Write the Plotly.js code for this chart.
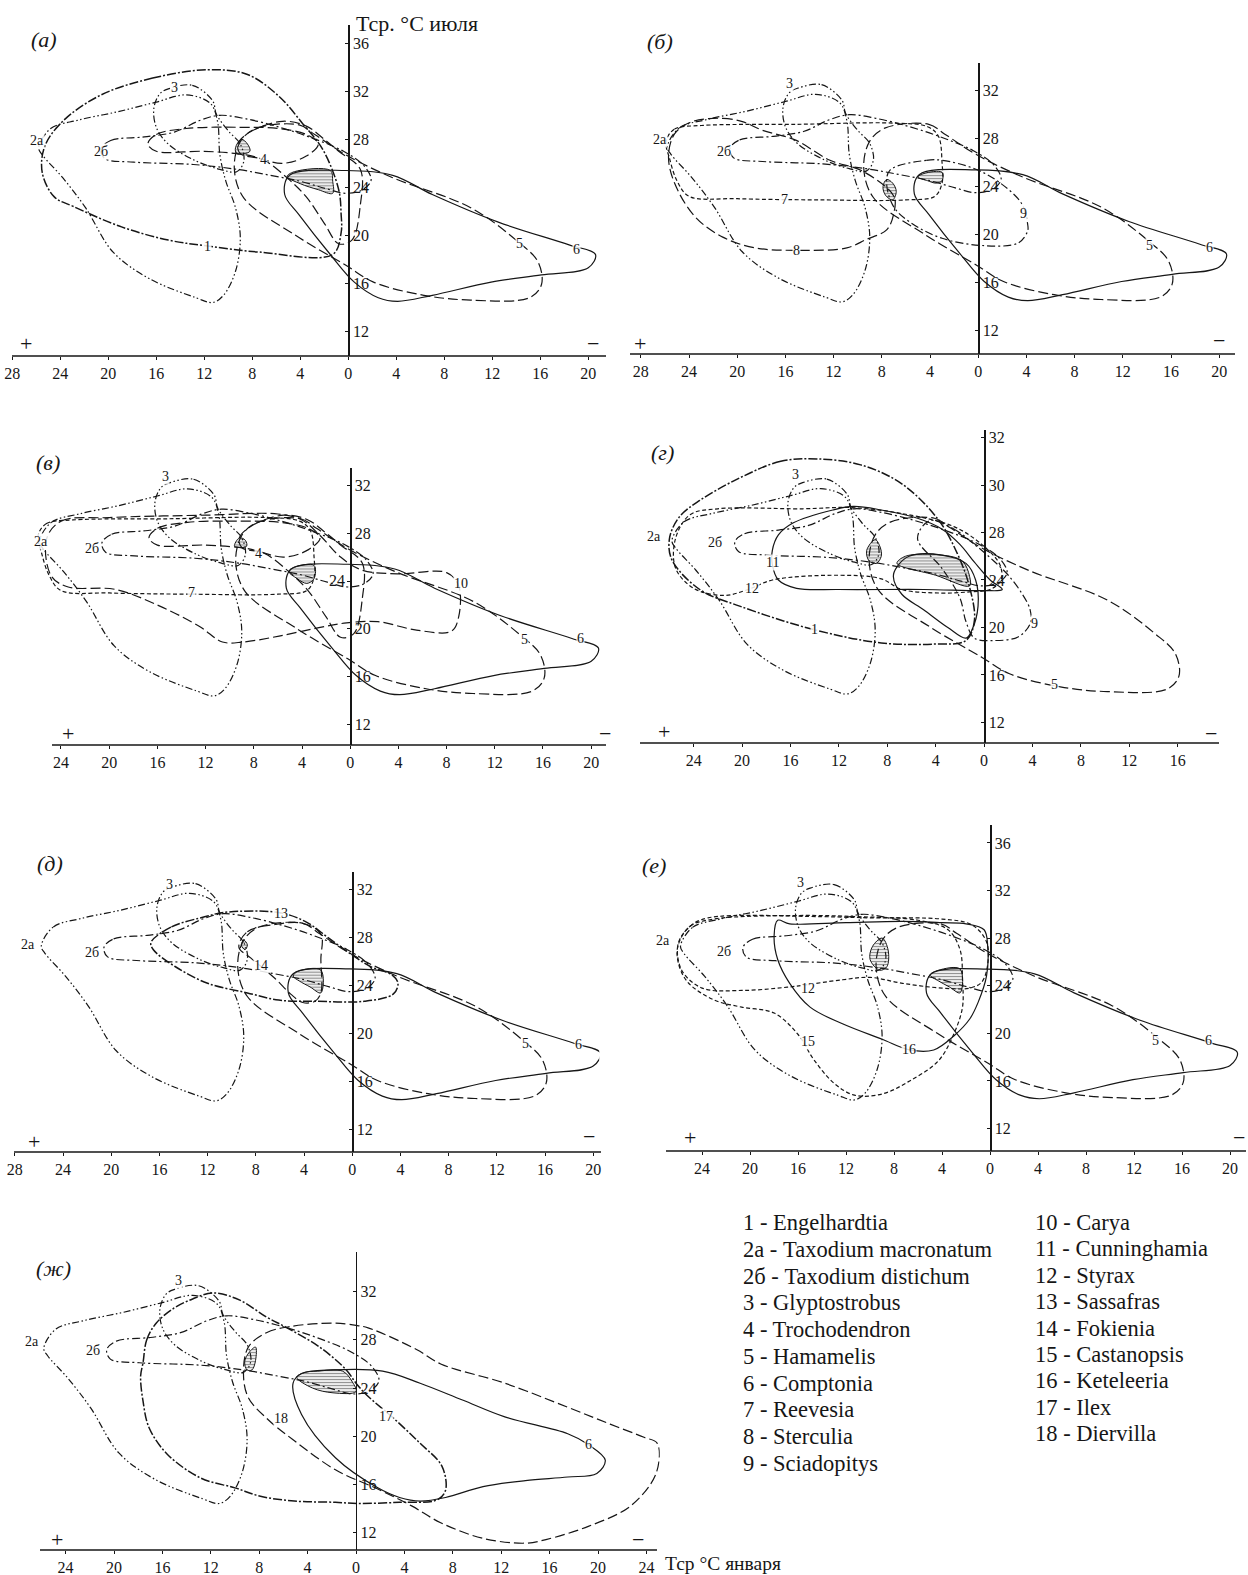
<!DOCTYPE html>
<html><head><meta charset="utf-8">
<script src="https://cdn.plot.ly/plotly-3.0.1.min.js"></script>
<style>html,body{margin:0;padding:0;background:#fff}#chart{width:1248px;height:1575px}</style>
</head><body><div id="chart"></div>
<script>
// ===== DATA: envelope outlines as [T января (°C, + left), T июля (°C)] =====
const engelhardtia_a = [[11.7,33.8],[16.3,33.1],[20.6,31.7],[23.8,29.5],[25.3,27.4],[25.5,25.2],[24.5,23.2],[22.9,22.4],[18.9,20.7],[15.0,19.6],[11.7,19.1],[7.4,18.6],[1.3,18.4],[0.6,20.2],[0.6,21.8],[0.8,23.8],[2.1,27.1],[3.8,29.3],[5.8,31.6],[8.4,33.4]];
const engelhardtia_g = [[13.8,34.2],[16.8,34.0],[20.2,32.6],[23.5,30.7],[25.2,29.3],[26.0,27.5],[25.8,25.7],[23.5,23.2],[20.2,21.8],[14.0,19.8],[8.5,18.7],[4.2,18.6],[1.5,18.9],[0.8,20.6],[1.2,23.4],[2.2,26.2],[3.8,29.1],[6.8,32.1],[10.2,33.7]];
const taxMacronatum = [[25.8,27.3],[24.8,28.9],[22.5,29.6],[19.2,30.3],[16.0,31.1],[13.5,31.7],[11.5,31.0],[10.9,29.5],[10.7,26.7],[10.2,24.5],[9.4,22.3],[9.0,19.8],[9.4,17.0],[10.4,15.0],[11.3,14.4],[12.7,14.8],[16.6,16.4],[19.6,18.6],[21.9,22.3],[23.8,24.8],[25.5,26.7]];
const taxDistichum = [[20.6,27.2],[19.8,27.9],[17.0,28.2],[14.5,28.6],[12.3,29.6],[10.7,30.0],[8.5,29.7],[5.7,29.0],[3.0,28.1],[0.4,27.0],[-1.3,25.8],[-1.9,24.6],[-1.2,23.8],[0.2,23.5],[1.9,23.9],[4.0,24.5],[6.5,25.0],[9.3,25.5],[12.9,25.9],[17.9,26.1],[20.3,26.4]];
const glyptostrobus = [[15.0,32.2],[13.0,32.5],[11.3,31.2],[11.0,30.1],[10.0,28.7],[9.0,27.6],[8.7,26.2],[9.3,25.3],[10.7,25.5],[12.7,26.2],[15.0,27.6],[16.0,29.0],[16.2,30.6],[15.7,31.8]];
const trochodendron = [[9.2,27.6],[8.2,28.6],[5.5,29.5],[3.5,29.1],[2.0,28.0],[0.8,27.0],[-1.0,25.5],[-1.0,22.5],[-0.3,19.6],[0.8,19.3],[2.0,21.0],[3.5,23.2],[5.0,24.7],[7.1,26.3],[9.0,26.8]];
const hamamelis = [[7.7,28.9],[4.1,29.2],[2.8,28.4],[0.2,26.7],[-3.7,24.8],[-10.2,22.3],[-14.1,19.5],[-15.8,17.8],[-16.1,15.9],[-15.1,14.8],[-10.2,14.6],[-6.3,15.0],[-2.1,16.1],[0.2,17.5],[4.4,20.0],[8.7,23.1],[9.5,25.6],[9.0,27.8]];
const comptonia = [[4.9,25.0],[0.2,25.4],[-3.7,25.0],[-7.0,23.4],[-12.5,21.1],[-18.4,19.2],[-20.6,18.4],[-20.0,17.3],[-16.1,16.7],[-11.9,16.1],[-7.0,15.0],[-4.1,14.5],[-2.5,14.8],[-0.5,16.1],[1.5,18.4],[4.1,21.7],[5.3,23.4]];
const comptonia_zh = [[5.2,24.4],[4.5,25.2],[1.9,25.5],[-2.2,25.4],[-5.3,24.4],[-8.8,23.0],[-12.3,21.6],[-17.5,20.2],[-19.2,19.3],[-20.6,18.0],[-19.9,16.9],[-17.5,16.6],[-14.0,16.3],[-10.5,15.8],[-7.4,14.9],[-5.3,14.6],[-3.6,14.9],[-1.8,15.7],[1.7,18.2],[4.5,21.8]];
const reevesia = [[25.9,27.8],[25.2,28.8],[23.0,29.1],[15.0,29.2],[7.0,29.3],[4.2,29.0],[3.3,28.2],[3.0,26.0],[3.0,24.3],[3.6,23.2],[6.0,22.9],[13.2,22.9],[20.0,23.0],[24.0,23.2],[25.0,24.5],[25.6,26.3]];
const sterculia = [[23.8,29.4],[21.2,29.7],[19.5,29.4],[17.9,28.7],[15.2,27.9],[12.3,26.2],[9.6,25.3],[7.0,23.2],[7.0,21.8],[7.6,20.4],[9.3,19.6],[10.9,18.9],[15.1,18.7],[18.5,18.9],[21.2,19.8],[23.5,21.5],[25.2,24.3],[25.7,26.5],[25.2,28.4]];
const sciadopitys_b = [[7.3,25.4],[4.3,26.2],[3.0,26.2],[0.3,25.5],[-1.7,24.4],[-3.6,22.6],[-4.1,20.9],[-4.1,20.3],[-3.3,19.3],[-0.3,19.1],[3.0,19.7],[5.6,21.0],[7.0,22.3],[7.6,24.3]];
const sciadopitys_g = [[4.5,29.0],[2.5,28.3],[0.8,27.0],[-0.8,25.6],[-2.0,24.4],[-3.1,22.9],[-3.8,21.5],[-3.8,20.3],[-2.8,19.2],[-0.8,18.9],[0.8,19.1],[1.5,20.5],[2.0,22.5],[3.5,25.0],[5.5,27.5]];
const carya = [[25.2,27.5],[24.0,29.0],[20.0,29.3],[12.0,29.5],[6.0,29.6],[4.0,29.1],[2.5,27.8],[0.8,26.0],[-1.0,24.9],[-4.0,24.6],[-8.0,24.7],[-9.0,23.6],[-9.0,21.0],[-8.4,19.8],[-5.5,19.9],[-2.3,20.6],[0.3,20.5],[2.6,20.1],[5.9,19.4],[8.9,18.9],[10.6,18.9],[12.5,20.2],[15.8,21.9],[19.5,23.3],[23.4,23.5],[24.8,24.4]];
const cunninghamia = [[17.5,26.5],[17.0,27.8],[15.8,28.8],[12.5,29.9],[10.8,30.2],[8.5,29.9],[5.5,29.2],[3.5,28.3],[2.0,27.0],[0.8,25.5],[-0.5,24.0],[-1.5,23.2],[0.0,23.1],[5.0,23.2],[12.0,23.2],[15.5,23.3],[17.0,24.0],[17.5,25.3]];
const styrax_g = [[25.5,27.5],[24.3,29.5],[22.0,30.0],[15.0,30.0],[11.0,30.1],[6.8,29.6],[2.5,28.5],[0.2,27.0],[-1.3,25.3],[-1.4,24.0],[-0.5,23.2],[1.2,23.0],[3.5,22.9],[6.8,23.2],[8.5,24.1],[12.0,24.4],[17.5,24.0],[19.5,23.2],[21.5,22.7],[24.0,23.3],[25.5,25.0]];
const styrax_e = [[26.0,27.5],[25.0,29.0],[23.5,29.7],[14.0,29.8],[10.0,29.7],[4.0,29.6],[1.5,29.1],[0.3,27.7],[0.2,25.8],[0.7,24.3],[1.7,23.8],[4.0,23.8],[7.3,24.2],[10.0,24.7],[12.3,24.5],[16.7,23.9],[20.7,23.6],[24.0,23.8],[25.7,25.3]];
const sassafras = [[16.7,27.6],[15.0,28.9],[12.0,29.8],[10.7,30.1],[6.1,30.1],[3.8,29.3],[2.0,28.0],[0.2,26.7],[-1.5,25.6],[-3.3,24.9],[-3.8,24.2],[-3.4,23.3],[-1.0,22.7],[3.0,22.7],[6.1,22.8],[8.7,23.4],[12.0,24.2],[14.7,25.6],[16.5,27.0]];
const fokienia = [[9.4,27.2],[8.7,28.5],[6.4,29.1],[4.1,29.2],[2.6,28.3],[2.6,26.2],[2.6,23.4],[3.1,22.7],[4.1,22.6],[5.1,23.3],[6.4,24.6],[8.4,26.3]];
const castanopsis = [[26.0,27.4],[25.0,29.0],[23.0,29.6],[16.0,29.9],[11.0,29.8],[6.0,29.5],[3.5,28.7],[2.5,27.0],[2.3,24.5],[2.3,22.2],[3.0,20.0],[4.3,17.7],[6.7,16.0],[9.0,14.9],[11.3,14.8],[13.0,15.8],[14.7,17.8],[16.0,19.9],[18.0,21.7],[20.7,22.2],[23.0,22.8],[25.2,24.3],[26.0,26.0]];
const keteleeria = [[17.7,29.5],[18.0,28.2],[17.7,26.2],[16.7,24.2],[15.0,22.2],[12.3,20.8],[9.0,19.5],[6.7,18.6],[4.7,18.6],[3.0,19.8],[1.7,21.2],[1.0,22.6],[0.3,24.8],[0.2,27.3],[0.5,28.7],[2.0,29.2],[4.0,29.3],[7.3,29.4],[12.0,29.3],[16.7,29.2]];
const ilex = [[17.6,26.1],[17.3,28.0],[16.5,29.4],[15.1,30.6],[13.5,31.4],[11.8,31.9],[9.6,31.3],[7.4,29.9],[5.7,29.0],[3.0,27.4],[0.8,25.5],[0.0,24.4],[-0.9,23.4],[-3.2,21.4],[-5.3,19.4],[-7.1,17.5],[-7.4,15.5],[-6.7,14.7],[-3.6,14.5],[-0.1,14.4],[1.7,14.5],[5.1,14.6],[7.9,15.0],[10.0,15.7],[12.8,16.5],[15.6,18.5],[17.1,20.7],[17.6,22.9],[17.8,25.0]];
const diervilla = [[8.9,27.4],[7.4,28.6],[5.5,29.1],[1.9,29.4],[0.0,29.2],[-1.0,29.0],[-5.0,27.2],[-7.0,26.0],[-12.3,24.4],[-17.5,22.4],[-21.0,21.0],[-23.8,19.9],[-24.9,19.4],[-24.8,16.9],[-22.7,14.2],[-19.2,12.5],[-15.7,11.4],[-14.0,11.1],[-10.5,11.5],[-7.0,12.8],[-4.6,14.2],[-1.8,15.6],[1.7,17.2],[5.2,19.7],[7.3,21.4],[8.9,23.2],[9.3,25.2]];
const unlabeledLong = [[16.7,27.6],[16.0,28.4],[13.5,28.9],[9.0,29.0],[5.8,28.9],[3.5,28.4],[2.5,27.6],[3.5,26.6],[5.5,26.0],[8.5,26.7],[12.0,27.0],[16.0,27.0]];
const unlabeledSolid = [[7.5,24.3],[7.2,25.1],[6.2,26.0],[3.5,26.1],[1.5,25.4],[0.7,24.0],[0.5,21.8],[1.0,19.8],[1.5,19.1],[3.0,20.0],[5.0,21.5],[6.8,22.8]];
// hatched overlap areas
const hatchA1 = [[8.9,28.0],[8.4,27.6],[8.2,27.0],[9.3,26.8],[9.4,27.3]];
const hatchA2 = [[5.1,24.9],[4.5,25.3],[1.5,25.4],[1.3,24.5],[1.3,23.5],[2.5,23.8],[4.0,24.3]];
const hatchB1 = [[7.6,24.6],[7.9,24.0],[7.7,23.3],[7.1,22.9],[6.8,23.6],[7.1,24.3]];
const hatchB2 = [[5.0,24.8],[4.5,25.1],[3.0,25.2],[3.0,24.5],[3.5,24.3],[4.2,24.5]];
const hatchV1 = [[9.2,27.6],[8.7,27.4],[8.6,26.9],[9.6,26.9]];
const hatchV2 = [[5.1,24.8],[4.5,25.2],[3.0,25.3],[3.0,24.2],[3.6,23.8],[4.4,24.2]];
const hatchG1 = [[9.0,27.4],[8.6,26.8],[8.5,26.0],[8.9,25.4],[9.5,25.6],[9.7,26.5]];
const hatchG2 = [[7.2,25.4],[6.5,26.0],[3.5,26.1],[1.8,25.6],[1.2,24.3],[1.2,23.5],[4.0,24.4]];
const hatchD1 = [[9.0,27.8],[8.7,27.4],[8.9,27.0],[9.2,27.4]];
const hatchD2 = [[4.9,24.8],[4.5,25.2],[2.6,25.3],[2.6,23.4],[3.5,23.9],[4.4,24.4]];
const hatchE1 = [[9.0,28.0],[8.5,27.0],[8.6,25.6],[9.2,25.3],[10.0,26.2],[9.8,27.3]];
const hatchE2 = [[5.0,24.9],[4.3,25.3],[2.5,25.4],[2.5,23.4],[3.4,23.9],[4.3,24.4]];
const hatchZ1 = [[8.3,27.4],[8.8,27.0],[9.2,26.2],[9.0,25.5],[8.6,25.5],[8.3,26.3]];
const hatchZ2 = [[4.9,24.9],[4.2,25.3],[3.2,25.4],[1.1,25.4],[0.3,24.5],[0.0,23.7],[1.9,23.6],[3.6,24.0]];
// tick values and labels
const X_TICKS_28_20 = [28,24,20,16,12,8,4,0,-4,-8,-12,-16,-20];
const X_LABELS_28_20 = ['28','24','20','16','12','8','4','0','4','8','12','16','20'];
const X_TICKS_24_20 = [24,20,16,12,8,4,0,-4,-8,-12,-16,-20];
const X_LABELS_24_20 = ['24','20','16','12','8','4','0','4','8','12','16','20'];
const X_TICKS_24_16 = [24,20,16,12,8,4,0,-4,-8,-12,-16];
const X_LABELS_24_16 = ['24','20','16','12','8','4','0','4','8','12','16'];
const X_TICKS_24_24 = [24,20,16,12,8,4,0,-4,-8,-12,-16,-20,-24];
const X_LABELS_24_24 = ['24','20','16','12','8','4','0','4','8','12','16','20','24'];
const Y_TICKS_36 = [12,16,20,24,28,32,36];
const Y_LABELS_36 = ['12','16','20','24','28','32','36'];
const Y_TICKS_32 = [12,16,20,24,28,32];
const Y_LABELS_32 = ['12','16','20','24','28','32'];
const Y_LABELS_V = ['12','16','20','','28','32'];
const Y_LABELS_G = ['12','16','20','24','28','30','32'];
const LEGEND_COL1 = ['1 - Engelhardtia','2а - Taxodium macronatum','2б - Taxodium distichum','3 - Glyptostrobus','4 - Trochodendron','5 - Hamamelis','6 - Comptonia','7 - Reevesia','8 - Sterculia','9 - Sciadopitys'];
const LEGEND_COL2 = ['10 - Carya','11 - Cunninghamia','12 - Styrax','13 - Sassafras','14 - Fokienia','15 - Castanopsis','16 - Keteleeria','17 - Ilex','18 - Diervilla'];

// ===== STYLE / LAYOUT =====
const W = 1248, H = 1575;
const FONT = 'Liberation Serif, Times New Roman, serif';
const INK = '#161616';
const DASH = {solid:'solid', long:'10px,4px', short:'4px,2.5px', dd:'8px,3px,2px,3px', ddd:'7px,2.5px,1.5px,2.5px,1.5px,2.5px', tick:'9px,2px,2px,2px'};

const panels = [
 {letter:'(а)', lp:[44,39], x0:348.3,kx:12.0,xL:28.6,xR:-21.7, y24:187.3,ky:12.0,yAx:356,yT:37.5, axL:12, axR:606,
  xt:X_TICKS_28_20, xl:X_LABELS_28_20, yt:Y_TICKS_36, yl:Y_LABELS_36, plus:[26,344], minus:[593,344],
  curves:[[engelhardtia_a,'tick'],[taxMacronatum,'ddd'],[taxDistichum,'dd'],[glyptostrobus,'ddd'],[trochodendron,'long'],[unlabeledLong,'long'],[hamamelis,'long'],[comptonia,'solid']],
  hatch:[hatchA1,hatchA2],
  labels:[['3',14.5,32.3],['2а',25.9,27.9],['2б',20.6,27.0],['4',7.1,26.3],['1',11.7,19.1],['5',-14.3,19.3],['6',-19.0,18.8]]},
 {letter:'(б)', lp:[660,42], x0:978.2,kx:12.05,xL:29.0,xR:-21.3, y24:186.7,ky:12.0,yAx:354,yT:34.3, axL:630, axR:1235,
  xt:X_TICKS_28_20, xl:X_LABELS_28_20, yt:Y_TICKS_32, yl:Y_LABELS_32, plus:[640,344], minus:[1219,340],
  curves:[[taxMacronatum,'ddd'],[taxDistichum,'dd'],[glyptostrobus,'ddd'],[reevesia,'short'],[sterculia,'long'],[sciadopitys_b,'dd'],[hamamelis,'long'],[comptonia,'solid']],
  hatch:[hatchB1,hatchB2],
  labels:[['3',15.7,32.6],['2а',26.4,27.9],['2б',21.1,26.9],['7',16.1,22.9],['8',15.1,18.7],['9',-3.8,21.8],['5',-14.2,19.1],['6',-19.2,18.9]]},
 {letter:'(в)', lp:[48,462], x0:350.2,kx:12.05,xL:27.5,xR:-21.5, y24:581,ky:11.97,yAx:745,yT:33.4, axL:52, axR:606,
  xt:X_TICKS_24_20, xl:X_LABELS_24_20, yt:Y_TICKS_32, yl:Y_LABELS_V, plus:[68,733], minus:[605,733], leftLabel:'24',
  curves:[[taxMacronatum,'ddd'],[taxDistichum,'dd'],[glyptostrobus,'ddd'],[trochodendron,'long'],[unlabeledLong,'long'],[reevesia,'short'],[carya,'long'],[hamamelis,'long'],[comptonia,'solid']],
  hatch:[hatchV1,hatchV2],
  labels:[['3',15.3,32.7],['2а',25.7,27.3],['2б',21.4,26.7],['4',7.6,26.3],['7',13.2,23.0],['10',-9.2,23.8],['5',-14.5,19.1],['6',-19.1,19.2]]},
 {letter:'(г)', lp:[662,452], x0:984.1,kx:12.1,xL:28.6,xR:-19.2, y24:580,ky:11.87,yAx:743,yT:36.6, axL:640, axR:1219,
  xt:X_TICKS_24_16, xl:X_LABELS_24_16, yt:Y_TICKS_36, yl:Y_LABELS_G, plus:[664,731], minus:[1211,733],
  curves:[[engelhardtia_g,'tick'],[taxMacronatum,'ddd'],[taxDistichum,'dd'],[glyptostrobus,'ddd'],[cunninghamia,'solid'],[unlabeledSolid,'solid'],[styrax_g,'short'],[sciadopitys_g,'dd'],[hamamelis,'long']],
  hatch:[hatchG1,hatchG2],
  labels:[['3',15.6,32.9],['2а',27.3,27.7],['2б',22.2,27.2],['11',17.5,25.5],['12',19.2,23.3],['1',14.0,19.8],['9',-4.2,20.3],['5',-5.8,15.2]]},
 {letter:'(д)', lp:[50,863], x0:352.2,kx:12.05,xL:28.6,xR:-20.5, y24:985.7,ky:12.0,yAx:1152,yT:33.5, axL:14, axR:601,
  xt:X_TICKS_28_20, xl:X_LABELS_28_20, yt:Y_TICKS_32, yl:Y_LABELS_32, plus:[34,1141], minus:[589,1136],
  curves:[[taxMacronatum,'ddd'],[taxDistichum,'dd'],[glyptostrobus,'ddd'],[sassafras,'tick'],[fokienia,'long'],[hamamelis,'long'],[comptonia,'solid']],
  hatch:[hatchD1,hatchD2],
  labels:[['3',15.2,32.4],['2а',26.9,27.4],['2б',21.6,26.8],['13',5.9,30.0],['14',7.6,25.7],['5',-14.4,19.2],['6',-18.8,19.1]]},
 {letter:'(е)', lp:[654,865], x0:990.1,kx:12.0,xL:28.6,xR:-21.4, y24:985.7,ky:11.9,yAx:1151,yT:37.5, axL:666, axR:1246,
  xt:X_TICKS_24_20, xl:X_LABELS_24_20, yt:Y_TICKS_36, yl:Y_LABELS_36, plus:[690,1137], minus:[1239,1137],
  curves:[[taxMacronatum,'ddd'],[taxDistichum,'dd'],[glyptostrobus,'ddd'],[styrax_e,'short'],[castanopsis,'short'],[keteleeria,'solid'],[hamamelis,'long'],[comptonia,'solid']],
  hatch:[hatchE1,hatchE2],
  labels:[['3',15.8,32.7],['2а',27.3,27.8],['2б',22.2,26.9],['12',15.2,23.8],['15',15.2,19.3],['16',6.8,18.6],['5',-13.8,19.4],['6',-18.2,19.4]]},
 {letter:'(ж)', lp:[53,1268], x0:356,kx:12.1,xL:28.3,xR:-25.1, y24:1388,ky:12.03,yAx:1550,yT:35.3, axL:40, axR:657,
  xt:X_TICKS_24_24, xl:X_LABELS_24_24, yt:Y_TICKS_32, yl:Y_LABELS_32, plus:[57,1539], minus:[638,1539],
  curves:[[taxMacronatum,'ddd'],[taxDistichum,'dd'],[glyptostrobus,'ddd'],[ilex,'tick'],[diervilla,'long'],[comptonia_zh,'solid']],
  hatch:[hatchZ1,hatchZ2],
  labels:[['3',14.7,32.9],['2а',26.8,27.9],['2б',21.7,27.1],['18',6.2,21.5],['17',-2.5,21.6],['6',-19.2,19.3]]}
];

const traces = [];
const layout = {width:W, height:H, margin:{l:0,r:0,t:0,b:0}, paper_bgcolor:'#fff', plot_bgcolor:'rgba(0,0,0,0)', showlegend:false, annotations:[], shapes:[], font:{family:FONT, color:INK}};

function closedXY(pts){ const p = pts.concat([pts[0]]); return {x:p.map(q=>q[0]), y:p.map(q=>q[1])}; }
function ann(o){ layout.annotations.push(Object.assign({showarrow:false, xanchor:'center', yanchor:'middle', font:{family:FONT,size:14,color:INK}}, o)); }

panels.forEach((p,i)=>{
  const n = i===0 ? '' : String(i+1);
  const xa = 'x'+n, ya = 'y'+n;
  const yB = 24 - (p.yAx - p.y24)/p.ky;
  const xd = [(p.x0 - p.xL*p.kx)/W, (p.x0 - p.xR*p.kx)/W];
  const yTop = p.y24 - (p.yT-24)*p.ky;
  const yd = [(H - p.yAx)/H, (H - yTop)/H];
  layout['xaxis'+n] = {domain:xd, range:[p.xL,p.xR], anchor:ya, showline:false,
    ticks:'outside', ticklen:3, tickwidth:1, tickcolor:INK, tickvals:p.xt, ticktext:p.xl,
    tickfont:{family:FONT,size:16,color:INK}, showgrid:false, zeroline:false, fixedrange:true};
  layout['yaxis'+n] = {domain:yd, range:[yB,p.yT], anchor:'free', position:p.x0/W, side:'right', showline:true,
    linecolor:INK, linewidth:1.4, ticks:'inside', ticklen:3, tickcolor:INK, tickvals:p.yt, ticktext:p.yl,
    tickfont:{family:FONT,size:16,color:INK}, showgrid:false, zeroline:false, fixedrange:true};
  // horizontal axis line (paper px, as drawn in the original)
  layout.shapes.push({type:'line', xref:'paper', yref:'paper', x0:p.axL/W, x1:p.axR/W, y0:1-p.yAx/H, y1:1-p.yAx/H, line:{color:INK, width:1.4}});
  p.curves.forEach(([pts,st])=>{
    const c = closedXY(pts);
    traces.push({type:'scatter', mode:'lines', x:c.x, y:c.y, xaxis:xa, yaxis:ya, hoverinfo:'skip', showlegend:false,
      line:{color:INK, width: st==='tick'?1.5:1.2, dash:DASH[st], shape:'spline', smoothing:1}});
  });
  p.hatch.forEach(pts=>{
    const c = closedXY(pts);
    traces.push({type:'scatter', mode:'lines', x:c.x, y:c.y, xaxis:xa, yaxis:ya, hoverinfo:'skip', showlegend:false,
      fill:'toself', fillcolor:'rgba(0,0,0,0)',
      fillpattern:{shape:'-', size:3, solidity:0.45, fgcolor:'#222', bgcolor:'rgba(0,0,0,0)', fillmode:'overlay'},
      line:{color:INK, width:1, shape:'spline', smoothing:1}});
  });
  p.labels.forEach(([t,x,y])=>{
    ann({xref:xa, yref:ya, x:x, y:y, text:t, font:{family:FONT,size:14,color:INK}, bgcolor:'rgba(255,255,255,0.85)', borderpad:0});
  });
  ann({xref:'paper', yref:'paper', x:p.lp[0]/W, y:1-p.lp[1]/H, text:'<i>'+p.letter+'</i>', font:{family:FONT,size:22,color:INK}});
  ann({xref:'paper', yref:'paper', x:p.plus[0]/W, y:1-p.plus[1]/H, text:'+', font:{family:FONT,size:22,color:INK}});
  ann({xref:'paper', yref:'paper', x:p.minus[0]/W, y:1-p.minus[1]/H, text:'−', font:{family:FONT,size:22,color:INK}});
  if (p.leftLabel) ann({xref:'paper', yref:'paper', x:(p.x0-3)/W, y:1-p.y24/H, xanchor:'right', text:p.leftLabel, font:{family:FONT,size:16,color:INK}});
});

// axis titles
ann({xref:'paper', yref:'paper', x:354/W, y:1-23/H, xanchor:'left', text:'Тср. °С июля', font:{family:FONT,size:22,color:INK}});
ann({xref:'paper', yref:'paper', x:663/W, y:1-1563/H, xanchor:'left', text:'Тср °С января', font:{family:FONT,size:19.5,color:INK}});

// legend text
LEGEND_COL1.forEach((t,k)=> ann({xref:'paper', yref:'paper', x:741/W, y:1-(1222.5+k*26.75)/H, xanchor:'left', text:t, font:{family:FONT,size:22.5,color:INK}}));
LEGEND_COL2.forEach((t,k)=> ann({xref:'paper', yref:'paper', x:1033/W, y:1-(1222.5+k*26.4)/H, xanchor:'left', text:t, font:{family:FONT,size:22.5,color:INK}}));

Plotly.newPlot('chart', traces, layout, {staticPlot:true, displayModeBar:false});
</script></body></html>
